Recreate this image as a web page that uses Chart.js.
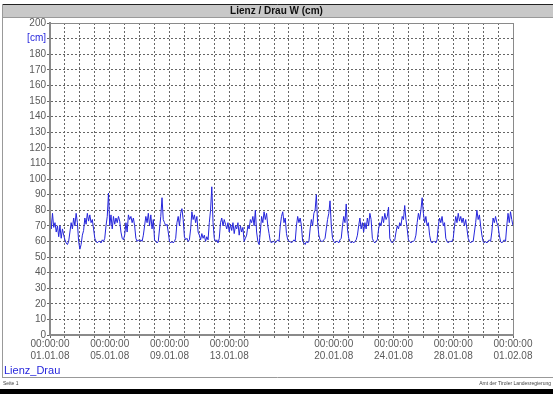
<!DOCTYPE html>
<html>
<head>
<meta charset="utf-8">
<script src="https://cdn.jsdelivr.net/npm/chart.js@4.4.0/dist/chart.umd.min.js"></script>
<style>
  html, body { margin: 0; padding: 0; background: #fff; }
</style>
</head>
<body>
<canvas id="levelChart" width="553" height="394"></canvas>
<script>
const chartTitle = 'Lienz / Drau W (cm)';
const seriesName = 'Lienz_Drau';
const unitLabel = '[cm]';
const footerLeft = 'Seite 1';
const footerRight = 'Amt der Tiroler Landesregierung';

// x axis: days since 01.01.08 00:00, labels only on some days
const tickDays = [0, 4, 8, 12, 19, 23, 27, 31];
const tickDates = ['01.01.08', '05.01.08', '09.01.08', '13.01.08', '20.01.08', '24.01.08', '28.01.08', '01.02.08'];
const tickTime = '00:00:00';

// water level [cm], one reading every 2 hours (one row per day)
const stepHours = 2;
const levels = [
  80, 68, 78, 69, 72, 66, 70, 63, 70, 62, 68, 64,
  61, 59, 58, 60, 66, 72, 68, 75, 70, 78, 72, 60,
  55, 58, 64, 67, 75, 71, 78, 73, 77, 72, 74, 68,
  62, 60, 59, 60, 60, 59, 61, 60, 62, 70, 76, 91,
  70, 77, 68, 76, 71, 75, 72, 76, 73, 66, 62, 61,
  64, 72, 66, 77, 74, 76, 72, 75, 70, 62, 60, 61,
  60, 61, 60, 64, 70, 76, 72, 78, 70, 77, 68, 74,
  61, 60, 59, 60, 68, 76, 88, 74, 72, 70, 71, 66,
  60, 59, 60, 59, 60, 62, 72, 76, 70, 78, 81, 74,
  63, 61, 62, 60, 61, 68, 79, 74, 77, 72, 76, 66,
  64, 61, 65, 62, 64, 60, 63, 61, 72, 80, 95, 72,
  62, 60, 61, 59, 62, 72, 75, 70, 74, 71, 68, 72,
  66, 71, 67, 72, 65, 70, 68, 72, 64, 70, 66, 69,
  60, 62, 64, 70, 68, 74, 72, 76, 70, 80, 66, 60,
  58, 66, 76, 72, 79, 74, 78, 70, 65, 60, 59, 60,
  60, 59, 60, 61, 60, 70, 76, 79, 72, 75, 65, 61,
  60, 60, 59, 60, 61, 60, 70, 76, 72, 75, 70, 60,
  59, 58, 60, 59, 60, 68, 74, 70, 78, 80, 90, 72,
  64, 61, 60, 60, 61, 62, 68, 74, 78, 86, 70, 62,
  60, 59, 60, 60, 59, 61, 62, 70, 76, 72, 84, 68,
  62, 60, 59, 60, 59, 60, 61, 64, 70, 75, 68, 72,
  66, 72, 68, 75, 70, 78, 74, 62, 60, 59, 60, 61,
  68, 72, 70, 76, 72, 78, 74, 76, 82, 62, 60, 59,
  60, 61, 66, 70, 68, 72, 70, 76, 74, 83, 74, 68,
  61, 60, 59, 60, 60, 61, 64, 72, 78, 74, 80, 88,
  78, 72, 76, 70, 72, 64, 60, 59, 60, 60, 59, 61,
  70, 75, 72, 76, 70, 72, 62, 60, 59, 60, 60, 60,
  62, 70, 76, 72, 78, 73, 76, 72, 75, 70, 74, 68,
  62, 60, 59, 60, 60, 66, 72, 80, 74, 77, 70, 64,
  60, 59, 60, 59, 60, 61, 60, 66, 75, 72, 76, 72,
  70, 64, 60, 59, 60, 61, 60, 70, 78, 72, 79, 74,
  70
];

const FONT = 'Liberation Sans, Arial, sans-serif';
const BLUE = '#2626dc';
const GREY_TEXT = '#5a5a5a';
const GRID = '#666';

// title bar, frame, legend and footer round the plot
const framePlugin = {
  id: 'frame',
  beforeDraw(chart) {
    const { ctx, width, height } = chart;
    ctx.save();
    ctx.fillStyle = '#fff';
    ctx.fillRect(0, 0, width, height);

    ctx.fillStyle = '#c8c8c8';
    ctx.fillRect(2, 4, width - 2, 13);
    ctx.strokeStyle = '#222';
    ctx.lineWidth = 1;
    ctx.beginPath();
    ctx.moveTo(2, 4.5); ctx.lineTo(width, 4.5);
    ctx.stroke();
    ctx.strokeStyle = '#999';
    ctx.beginPath();
    ctx.moveTo(2, 17.5); ctx.lineTo(width, 17.5);
    ctx.moveTo(2.5, 4); ctx.lineTo(2.5, 378);
    ctx.moveTo(2, 377.5); ctx.lineTo(width, 377.5);
    ctx.stroke();

    ctx.fillStyle = '#111';
    ctx.font = 'bold 10px ' + FONT;
    ctx.textAlign = 'center';
    ctx.textBaseline = 'middle';
    ctx.fillText(chartTitle, width / 2, 11);

    ctx.fillStyle = BLUE;
    ctx.font = '11px ' + FONT;
    ctx.textAlign = 'left';
    ctx.fillText(seriesName, 4, 371);

    ctx.fillStyle = '#444';
    ctx.font = '5px ' + FONT;
    ctx.fillText(footerLeft, 3, 384);
    ctx.textAlign = 'right';
    ctx.fillText(footerRight, width - 2, 384);

    ctx.fillStyle = '#000';
    ctx.fillRect(0, 389, width, 5);
    ctx.restore();
  },
  afterDatasetsDraw(chart) {
    const { ctx, chartArea: a } = chart;
    ctx.save();
    ctx.strokeStyle = '#8a8a8a';
    ctx.lineWidth = 1;
    ctx.strokeRect(a.left + 0.5, a.top + 0.5, a.right - a.left, a.bottom - a.top);
    ctx.restore();
  }
};

new Chart(document.getElementById('levelChart'), {
  type: 'line',
  data: {
    datasets: [{
      label: seriesName,
      data: levels.map((v, i) => ({ x: i * stepHours / 24, y: v })),
      borderColor: BLUE,
      borderWidth: 1,
      pointRadius: 0,
      tension: 0
    }]
  },
  options: {
    responsive: false,
    animation: false,
    layout: { padding: { top: 23, left: 0, right: 40, bottom: 21 } },
    plugins: { legend: { display: false }, tooltip: { enabled: false } },
    scales: {
      x: {
        type: 'linear',
        min: 0,
        max: 31,
        afterFit(s) { s.height = 38; },
        ticks: {
          stepSize: 1,
          autoSkip: false,
          maxRotation: 0,
          padding: 0,
          color: GREY_TEXT,
          font: { family: FONT, size: 10 },
          callback: v => {
            const k = tickDays.indexOf(v);
            return k < 0 ? '' : [tickTime, tickDates[k]];
          }
        },
        grid: { color: GRID, tickLength: 3 },
        border: { color: '#8a8a8a', width: 2, dash: [2, 2] }
      },
      y: {
        min: 0,
        max: 200,
        afterFit(s) { s.width = 50; },
        ticks: {
          stepSize: 10,
          padding: 1,
          color: c => (c.tick && c.tick.value === 190 ? BLUE : GREY_TEXT),
          font: { family: FONT, size: 10 },
          callback: v => (v === 190 ? unitLabel : v)
        },
        grid: { color: GRID, tickLength: 3 },
        border: { color: '#8a8a8a', width: 2, dash: [2, 2] }
      }
    }
  },
  plugins: [framePlugin]
});
</script>
</body>
</html>
